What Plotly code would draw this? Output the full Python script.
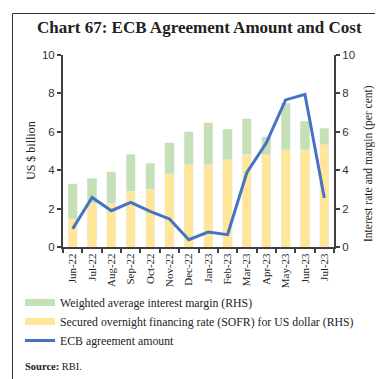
import plotly.graph_objects as go

months = ["Jun-22", "Jul-22", "Aug-22", "Sep-22", "Oct-22", "Nov-22", "Dec-22",
          "Jan-23", "Feb-23", "Mar-23", "Apr-23", "May-23", "Jun-23", "Jul-23"]
sofr = [1.46, 2.29, 2.29, 2.91, 3.02, 3.81, 4.28, 4.28, 4.54, 4.84, 4.80, 5.06, 5.06, 5.32]
margin = [1.83, 1.28, 1.64, 1.91, 1.33, 1.63, 1.73, 2.20, 1.59, 1.85, 0.95, 2.43, 1.49, 0.87]
ecb_amount = [0.95, 2.58, 1.89, 2.32, 1.85, 1.46, 0.38, 0.78, 0.64, 3.88, 5.41, 7.66, 7.95, 2.55]

GREEN = "#C5E0B4"
YELLOW = "#FFE699"
BLUE = "#4472C4"
AXIS = "#404040"
SERIF = "Liberation Serif"
SANS = "Liberation Sans"

W, H = 383, 379
L, R, T, B = 55, 326, 47, 239
PW, PH = R - L, B - T


def px(x):
    return (x - L) / PW


def py(y):
    return (B - y) / PH


fig = go.Figure()
fig.add_trace(go.Bar(x=months, y=sofr, marker_color=YELLOW, showlegend=False,
                     yaxis="y", name="SOFR"))
fig.add_trace(go.Bar(x=months, y=margin, marker_color=GREEN, showlegend=False,
                     yaxis="y", name="Margin"))
fig.add_trace(go.Scatter(x=months, y=ecb_amount, mode="lines", yaxis="y2",
                         line=dict(color=BLUE, width=3), showlegend=False))

# legend entries
fig.add_trace(go.Scatter(x=[None], y=[None], mode="lines", line=dict(color=GREEN, width=7),
                         name="Weighted average interest margin (RHS)"))
fig.add_trace(go.Scatter(x=[None], y=[None], mode="lines", line=dict(color=YELLOW, width=7),
                         name="Secured overnight financing rate (SOFR) for US dollar (RHS)"))
fig.add_trace(go.Scatter(x=[None], y=[None], mode="lines", line=dict(color=BLUE, width=3),
                         name="ECB agreement amount"))

fig.update_layout(
    width=W, height=H,
    margin=dict(l=L, r=W - R, t=T, b=H - B, autoexpand=False),
    paper_bgcolor="white", plot_bgcolor="white",
    barmode="stack", bargap=0.53,
    font=dict(family=SERIF, color="#222222"),
    xaxis=dict(type="category", tickangle=-90, tickson="boundaries",
               ticks="outside", ticklen=4, tickcolor=AXIS, tickwidth=1.5,
               showline=True, linecolor=AXIS, linewidth=2, showgrid=False,
               tickfont=dict(family=SERIF, size=11, color="#222222")),
    yaxis=dict(side="right", range=[0, 10], dtick=2, showgrid=False, zeroline=False,
               showline=True, linecolor=AXIS, linewidth=2, ticks="outside",
               ticklen=4, tickcolor=AXIS, tickwidth=1.5,
               tickfont=dict(family=SANS, size=11.5, color="#333333")),
    yaxis2=dict(side="left", overlaying="y", range=[0, 10], dtick=2, showgrid=False,
                zeroline=False, showline=True, linecolor=AXIS, linewidth=2,
                ticks="outside", ticklen=4, tickcolor=AXIS, tickwidth=1.5,
                tickfont=dict(family=SANS, size=11.5, color="#333333")),
    legend=dict(x=px(12), y=py(280), xanchor="left", yanchor="top",
                traceorder="normal",
                font=dict(family=SERIF, size=11.8, color="#222222"),
                itemwidth=30, tracegroupgap=0, bgcolor="rgba(0,0,0,0)"),
    shapes=[dict(type="rect", xref="paper", yref="paper",
                 x0=px(4.5), x1=px(378.5), y0=py(373.5), y1=py(5.5),
                 line=dict(color="#333333", width=1))],
    annotations=[
        dict(text="<b>Chart 67: ECB Agreement Amount and Cost</b>", xref="paper", yref="paper",
             x=px(191.5), y=py(19), xanchor="center", yanchor="middle", showarrow=False,
             font=dict(family=SERIF, size=17, color="#222222")),
        dict(text="US $ billion", xref="paper", yref="paper", textangle=-90,
             x=px(23), y=py(143), xanchor="center", yanchor="middle", showarrow=False,
             font=dict(family=SERIF, size=12, color="#222222")),
        dict(text="Interest rate and margin (per cent)", xref="paper", yref="paper", textangle=-90,
             x=px(360), y=py(156), xanchor="center", yanchor="middle", showarrow=False,
             font=dict(family=SERIF, size=11.5, color="#222222")),
        dict(text="<b>Source:</b> RBI.", xref="paper", yref="paper",
             x=px(15), y=py(358), xanchor="left", yanchor="middle", showarrow=False,
             font=dict(family=SERIF, size=10.5, color="#222222")),
    ],
)

fig.write_html("out.html")
